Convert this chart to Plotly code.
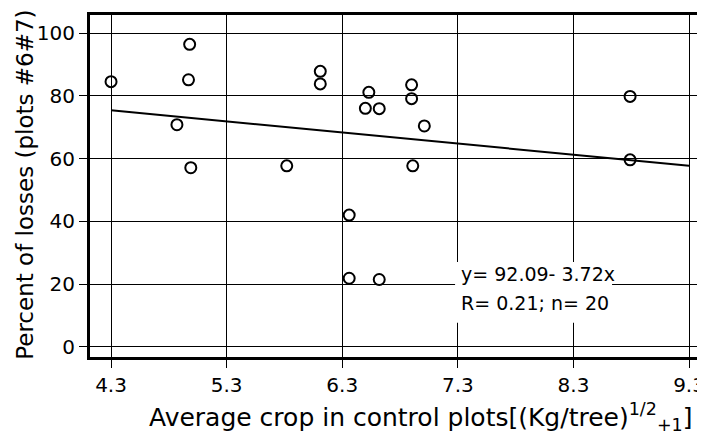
import plotly.graph_objects as go

# Data
crop_x = [4.98, 4.30, 4.97, 4.87, 4.99, 6.11, 6.11, 6.53, 6.50, 6.62,
          6.90, 6.90, 7.01, 5.82, 6.91, 6.36, 6.36, 6.62, 8.79, 8.79]
loss_y = [96.4, 84.5, 85.1, 70.8, 57.1, 87.8, 83.8, 81.1, 76.0, 75.9,
          83.5, 79.1, 70.4, 57.7, 57.7, 42.0, 21.9, 21.5, 79.8, 59.6]
fit_x = [4.3, 9.3]
fit_y = [75.4, 57.7]
x_ticks = [4.3, 5.3, 6.3, 7.3, 8.3, 9.3]
x_tick_labels = ["4.3", "5.3", "6.3", "7.3", "8.3", "9.3"]
y_ticks = [0, 20, 40, 60, 80, 100]
y_tick_labels = ["0", "20", "40", "60", "80", "100"]

FONT = "DejaVu Sans"

fig = go.Figure()
fig.add_trace(go.Scatter(x=fit_x, y=fit_y, mode="lines",
                         line=dict(color="black", width=2), showlegend=False,
                         hoverinfo="skip"))
fig.add_trace(go.Scatter(x=crop_x, y=loss_y, mode="markers",
                         marker=dict(symbol="circle-open", size=11, color="black",
                                     line=dict(width=2, color="black")),
                         showlegend=False))

# white box behind the equation text (covers gridlines)
fig.add_shape(type="rect", x0=7.276, x1=8.634, y0=7.7, y1=27.1,
              fillcolor="white", line=dict(width=0), layer="above")

fig.add_annotation(x=7.31, y=23.3, xref="x", yref="y", xanchor="left", yanchor="middle",
                   text="y= 92.09- 3.72x", showarrow=False,
                   font=dict(family=FONT, size=19, color="black"))
fig.add_annotation(x=7.31, y=14.0, xref="x", yref="y", xanchor="left", yanchor="middle",
                   text="R= 0.21; n= 20", showarrow=False,
                   font=dict(family=FONT, size=19, color="black"))

# axis titles
fig.add_annotation(x=0.537, y=-0.175, xref="paper", yref="paper",
                   xanchor="center", yanchor="middle", showarrow=False,
                   text="Average crop in control plots[(Kg/tree)<sup>1/2</sup><sub>+1</sub>]",
                   font=dict(family=FONT, size=25, color="black"))
fig.add_annotation(x=-0.106, y=0.503, xref="paper", yref="paper",
                   xanchor="center", yanchor="middle", showarrow=False, textangle=-90,
                   text="Percent of losses (plots <i>#</i>6<i>#</i>7)",
                   font=dict(family=FONT, size=23, color="black"))

fig.update_xaxes(range=[4.118, 9.438], tickvals=x_ticks, ticktext=x_tick_labels,
                 showgrid=True, gridcolor="black", gridwidth=1,
                 ticks="outside", ticklen=8, tickcolor="black", tickwidth=1,
                 showline=True, linecolor="black", linewidth=3, mirror=True,
                 zeroline=False, tickfont=dict(family=FONT, size=20, color="black"))
fig.update_yaxes(range=[-3.19, 105.74], tickvals=y_ticks, ticktext=y_tick_labels,
                 showgrid=True, gridcolor="black", gridwidth=1,
                 ticks="outside", ticklen=8, tickcolor="black", tickwidth=1,
                 showline=True, linecolor="black", linewidth=3, mirror=False,
                 zeroline=False, tickfont=dict(family=FONT, size=20, color="black"))

# page has an 8px body margin, so the figure is shrunk/offset to compensate
fig.update_layout(width=697, height=427, margin=dict(l=82, r=0, t=7, b=78),
                  plot_bgcolor="white", paper_bgcolor="white",
                  font=dict(family=FONT, color="black"))

fig.write_html("out.html")
